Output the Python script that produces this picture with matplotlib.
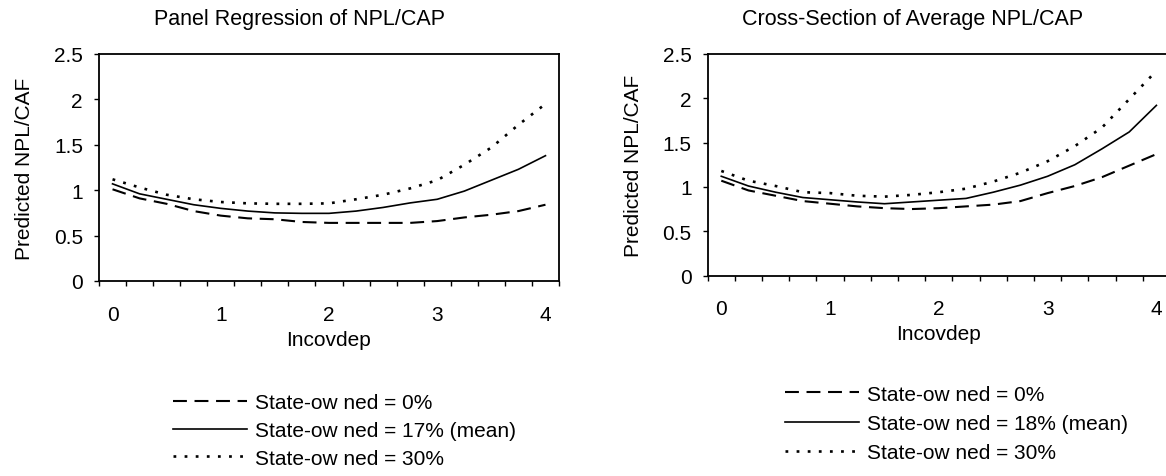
import matplotlib
matplotlib.use("Agg")
import matplotlib.pyplot as plt
from matplotlib.ticker import FixedLocator

plt.rcParams['font.family'] = ['Liberation Sans', 'DejaVu Sans']
plt.rcParams['lines.scale_dashes'] = False

# ---- data ----
lncovdep = [0.0, 0.25, 0.5, 0.75, 1.0, 1.25, 1.5, 1.75, 2.0,
            2.25, 2.5, 2.75, 3.0, 3.25, 3.5, 3.75, 4.0]
x_labels = ['0', '1', '2', '3', '4']
x_label_pos = [0, 1, 2, 3, 4]

panel_state0 = [1.01, 0.91, 0.85, 0.77, 0.72, 0.69, 0.68, 0.65, 0.64,
                0.64, 0.64, 0.64, 0.66, 0.70, 0.73, 0.77, 0.84]
panel_state17 = [1.07, 0.96, 0.90, 0.84, 0.80, 0.77, 0.75, 0.745, 0.745,
                 0.77, 0.81, 0.86, 0.90, 0.99, 1.11, 1.23, 1.38]
panel_state30 = [1.12, 1.03, 0.95, 0.90, 0.87, 0.855, 0.85, 0.85, 0.855,
                 0.90, 0.95, 1.02, 1.11, 1.28, 1.47, 1.72, 1.95]

cross_state0 = [1.07, 0.96, 0.90, 0.84, 0.81, 0.78, 0.76, 0.75, 0.76,
                0.78, 0.80, 0.84, 0.93, 1.01, 1.11, 1.24, 1.37]
cross_state18 = [1.12, 1.01, 0.94, 0.88, 0.855, 0.83, 0.81, 0.83, 0.85,
                 0.87, 0.94, 1.02, 1.12, 1.25, 1.43, 1.62, 1.92]
cross_state30 = [1.18, 1.07, 1.01, 0.94, 0.93, 0.90, 0.89, 0.91, 0.94,
                 0.98, 1.06, 1.16, 1.29, 1.46, 1.67, 1.99, 2.31]

panel_labels = ['State-ow ned = 0%', 'State-ow ned = 17% (mean)', 'State-ow ned = 30%']
cross_labels = ['State-ow ned = 0%', 'State-ow ned = 18% (mean)', 'State-ow ned = 30%']
y_ticks = [0, 0.5, 1, 1.5, 2, 2.5]
y_ticklabels = ['0', '0.5', '1', '1.5', '2', '2.5']

# ---- layout (pixels of a 1166x477 canvas) ----
W, H = 1166.0, 477.0
FS = 15

fig = plt.figure(figsize=(W / 100, H / 100), dpi=100, facecolor='white')
ax_panel = fig.add_axes([99 / W, 1 - 282 / H, 460 / W, 227 / H])
ax_cross = fig.add_axes([707.7 / W, 1 - 276.5 / H, 462.3 / W, 221.5 / H])

styles = [
    dict(color='black', lw=1.5, dashes=(10.0, 5.5)),
    dict(color='black', lw=1.2, linestyle='-'),
    dict(color='black', lw=1.9, dashes=(2.0, 6.0)),
]


def draw_panel(ax, series, labels, title, title_x, legend_x, legend_y, row_gap):
    handles = []
    for ys, st, lab in zip(series, styles, labels):
        h, = ax.plot(lncovdep, ys, label=lab, **st)
        handles.append(h)

    ax.set_xlim(-0.125, 4.125)
    ax.set_ylim(0, 2.5)
    ax.set_yticks(y_ticks)
    ax.set_yticklabels(y_ticklabels)
    ax.set_xticks(x_label_pos)
    ax.set_xticklabels(x_labels)
    bounds = [v - 0.125 for v in lncovdep] + [4.125]
    ax.xaxis.set_minor_locator(FixedLocator(bounds))

    ax.tick_params(axis='x', which='major', length=0, pad=17, labelsize=FS)
    ax.tick_params(axis='x', which='minor', length=3.6, width=1.0, direction='out')
    ax.tick_params(axis='y', which='major', length=3.6, width=1.0, direction='out',
                   pad=8, labelsize=FS)
    for sp in ax.spines.values():
        sp.set_linewidth(1.3)
        sp.set_color('black')

    ax.set_xlabel('Incovdep', fontsize=FS, labelpad=4.5)
    ax.set_ylabel('Predicted NPL/CAF', fontsize=FS, labelpad=14)

    fig.text(title_x / W, 1 - 25 / H, title, ha='center', va='baseline', fontsize=15.5)

    fig.legend(handles, labels, loc='center left',
               bbox_to_anchor=(legend_x / W, 1 - legend_y / H),
               frameon=False, fontsize=FS, handlelength=3.55, handletextpad=0.38,
               labelspacing=row_gap, borderpad=0, borderaxespad=0)


draw_panel(ax_panel, [panel_state0, panel_state17, panel_state30], panel_labels,
           'Panel Regression of NPL/CAP', 300, 173, 431.5, 0.42)
draw_panel(ax_cross, [cross_state0, cross_state18, cross_state30], cross_labels,
           'Cross-Section of Average NPL/CAP', 913, 785, 424.5, 0.5)

fig.savefig('out.png', dpi=100, facecolor='white')
